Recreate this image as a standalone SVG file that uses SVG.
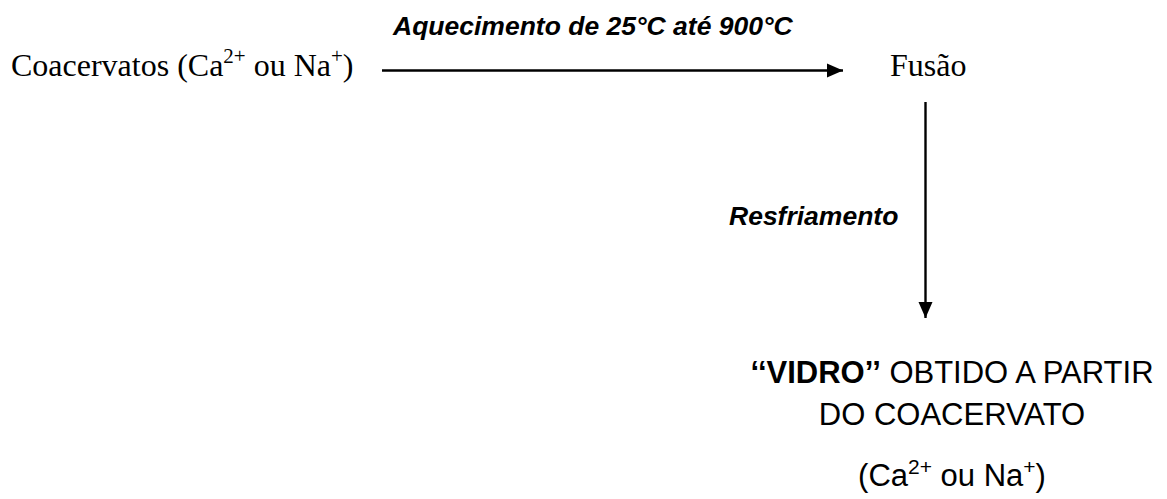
<svg xmlns="http://www.w3.org/2000/svg" width="1167" height="499" viewBox="0 0 1167 499">
<style>
.serif{font-family:"Liberation Serif","Times New Roman",serif;font-size:32px;fill:#000}
.lbl{font-family:"Liberation Sans",Arial,sans-serif;font-size:26.5px;font-weight:bold;font-style:italic;fill:#000}
.sans{font-family:"Liberation Sans",Arial,sans-serif;font-size:31px;fill:#000}
.b{font-weight:bold}
.sup{font-size:21px}
.edge{stroke:#000;stroke-width:2.4;fill:none}
</style>
<defs>
<marker id="ah" markerUnits="userSpaceOnUse" markerWidth="16" markerHeight="16" viewBox="0 0 16 16" refX="16" refY="8" orient="auto">
<path d="M0,1 L16,8 L0,15 Z" fill="#000"/>
</marker>
</defs>
<rect width="1167" height="499" fill="#fff"/>
<g id="connectors">
<line class="edge" x1="382" y1="70.5" x2="843" y2="70.5" marker-end="url(#ah)"/>
<text class="lbl" x="393" y="35">Aquecimento de 25°C até 900°C</text>
<line class="edge" x1="925.5" y1="102" x2="925.5" y2="318" marker-end="url(#ah)"/>
<text class="lbl" x="729" y="225">Resfriamento</text>
</g>
<g id="coacervatos">
<text class="serif" x="11" y="76">Coacervatos (Ca<tspan class="sup" dy="-13">2+</tspan><tspan dy="13"> ou Na</tspan><tspan class="sup" dy="-13">+</tspan><tspan dy="13">)</tspan></text>
</g>
<g id="fusao">
<text class="serif" x="890" y="76">Fusão</text>
</g>
<g id="vidro">
<text class="sans" x="952" y="383" text-anchor="middle"><tspan class="b">‘‘VIDRO’’</tspan> OBTIDO A PARTIR</text>
<text class="sans" x="952" y="425" text-anchor="middle">DO COACERVATO</text>
<text class="sans" x="952" y="486" text-anchor="middle">(Ca<tspan class="sup" dy="-12">2+</tspan><tspan dy="12"> ou Na</tspan><tspan class="sup" dy="-12">+</tspan><tspan dy="12">)</tspan></text>
</g>
</svg>
